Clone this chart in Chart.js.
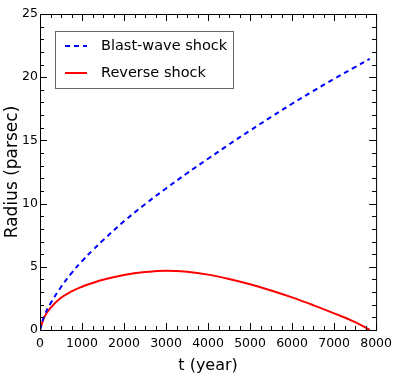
<!DOCTYPE html>
<html>
<head>
<meta charset="utf-8">
<script src="https://cdn.jsdelivr.net/npm/chart.js@4"></script>
<style>
	body { margin: 0; background: #fff; }
	canvas { display: block; }
</style>
</head>
<body>
<canvas id="shockChart" width="398" height="381"></canvas>
<script>
// time in years and radii in parsec
const tYears = [0, 100, 250, 500, 750, 1000, 1250, 1500, 2000, 2500, 3000, 3500, 4000, 4500, 5000, 5500, 6000, 6500, 7000, 7500, 7850];
const blastRadius = [0, 1.1, 2.1, 3.4, 4.5, 5.45, 6.3, 7.1, 8.6, 9.95, 11.2, 12.4, 13.55, 14.68, 15.78, 16.85, 17.9, 18.9, 19.87, 20.8, 21.45];
const reverseRadius = [0, 1.0, 1.75, 2.55, 3.05, 3.42, 3.72, 3.98, 4.35, 4.58, 4.69, 4.6, 4.38, 4.04, 3.62, 3.13, 2.58, 1.97, 1.32, 0.63, 0];
const seriesLabels = ["Blast-wave shock", "Reverse shock"];
const xTicks = [0, 1000, 2000, 3000, 4000, 5000, 6000, 7000, 8000];
const yTicks = [0, 5, 10, 15, 20, 25];

const FONT = "'DejaVu Sans', sans-serif";

const toPoints = (ys) => tYears.map((t, i) => ({ x: t, y: ys[i] }));

// frame + inward ticks on all four sides (matplotlib classic look)
const frameTicks = {
	id: "frameTicks",
	afterDatasetsDraw(chart) {
		const { ctx, chartArea: a, scales } = chart;
		const x = scales.x, y = scales.y;
		ctx.save();
		ctx.strokeStyle = "#000";
		ctx.lineWidth = 1;
		for (let v = 0; v <= 8000; v += 250) {
			const px = Math.round(x.getPixelForValue(v)) + 0.5;
			const len = v % 1000 === 0 ? 7 : 4;
			ctx.beginPath();
			ctx.moveTo(px, a.bottom);
			ctx.lineTo(px, a.bottom - len);
			ctx.moveTo(px, a.top);
			ctx.lineTo(px, a.top + len);
			ctx.stroke();
		}
		for (let v = 0; v <= 25; v += 1) {
			const py = Math.round(y.getPixelForValue(v)) + 0.5;
			const len = v % 5 === 0 ? 7 : 4;
			ctx.beginPath();
			ctx.moveTo(a.left, py);
			ctx.lineTo(a.left + len, py);
			ctx.moveTo(a.right, py);
			ctx.lineTo(a.right - len, py);
			ctx.stroke();
		}
		ctx.strokeRect(a.left + 0.5, a.top + 0.5, a.right - a.left, a.bottom - a.top);

		// legend box
		const bx = 55.5, by = 31.5, bw = 178, bh = 57;
		ctx.fillStyle = "#fff";
		ctx.fillRect(bx, by, bw, bh);
		ctx.strokeStyle = "#666";
		ctx.strokeRect(bx, by, bw, bh);
		chart.data.datasets.forEach((ds, i) => {
			const rowY = 46 + i * 27;
			ctx.strokeStyle = ds.borderColor;
			ctx.lineWidth = 2;
			ctx.setLineDash(ds.borderDash || []);
			ctx.beginPath();
			ctx.moveTo(65, rowY);
			ctx.lineTo(87, rowY);
			ctx.stroke();
			ctx.setLineDash([]);
			ctx.fillStyle = "#000";
			ctx.font = "14.5px " + FONT;
			ctx.textBaseline = "middle";
			ctx.fillText(ds.label, 101, rowY);
		});
		ctx.restore();
	},
};

new Chart(document.getElementById("shockChart"), {
	type: "line",
	data: {
		datasets: [
			{
				label: seriesLabels[0],
				data: toPoints(blastRadius),
				borderColor: "#0000ff",
				borderWidth: 2,
				borderDash: [5, 4],
				pointRadius: 0,
				tension: 0.4,
			},
			{
				label: seriesLabels[1],
				data: toPoints(reverseRadius),
				borderColor: "#ff0000",
				borderWidth: 2,
				pointRadius: 0,
				tension: 0.4,
			},
		],
	},
	options: {
		responsive: false,
		animation: false,
		layout: { padding: { top: 14, right: 20, left: 0, bottom: 0 } },
		plugins: { legend: { display: false }, tooltip: { enabled: false } },
		scales: {
			x: {
				type: "linear",
				min: 0,
				max: 8000,
				afterBuildTicks: (s) => { s.ticks = xTicks.map((v) => ({ value: v })); },
				afterFit: (s) => { s.height = 51; },
				grid: { display: false, drawTicks: false },
				border: { display: false },
				ticks: {
					padding: 6,
					color: "#000",
					font: { family: FONT, size: 12.5 },
					maxRotation: 0,
					callback: (v) => String(v),
				},
				title: {
					display: true,
					text: "t (year)",
					color: "#000",
					font: { family: FONT, size: 16 },
					padding: { top: 0, bottom: 6 },
				},
			},
			y: {
				min: 0,
				max: 25,
				afterBuildTicks: (s) => { s.ticks = yTicks.map((v) => ({ value: v })); },
				afterFit: (s) => { s.width = 40; },
				grid: { display: false, drawTicks: false },
				border: { display: false },
				ticks: {
					padding: 2,
					color: "#000",
					font: { family: FONT, size: 12.5 },
					callback: (v) => String(v),
				},
				title: {
					display: true,
					text: "Radius (parsec)",
					color: "#000",
					font: { family: FONT, size: 17 },
					padding: { top: 2, bottom: 0 },
				},
			},
		},
	},
	plugins: [frameTicks],
});
</script>
</body>
</html>
